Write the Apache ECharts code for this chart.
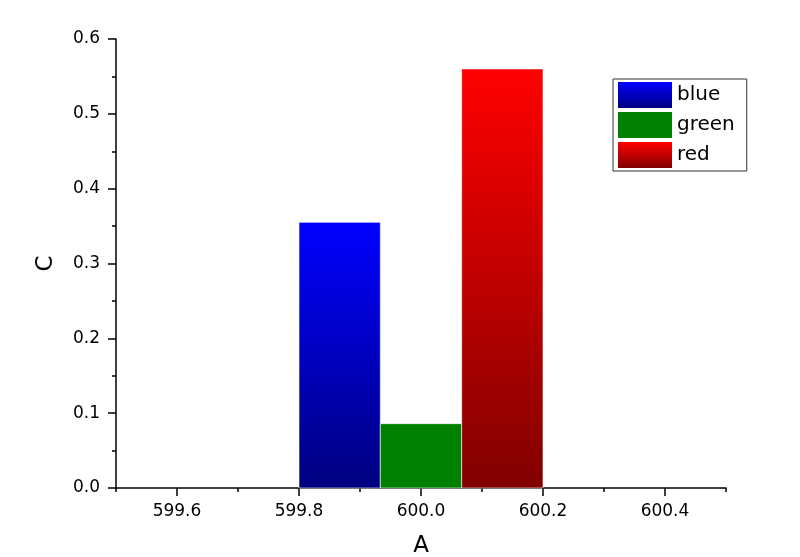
<!DOCTYPE html>
<html>
<head>
<meta charset="utf-8">
<script src="https://cdn.jsdelivr.net/npm/echarts@6/dist/echarts.min.js"></script>
<style>
  html, body { margin: 0; padding: 0; background: #fff; }
  #chart { width: 800px; height: 557px; }
</style>
</head>
<body>
<div id="chart"></div>
<script>
// bar data: left edge, right edge and height of each bar
var names = ['blue', 'green', 'red'];
var barStart = [599.8, 599.9333, 600.0667];
var barEnd = [599.9333, 600.0667, 600.2];
var barValue = [0.355, 0.086, 0.56];

// tick positions on the A axis
var majorTicksX = [599.6, 599.8, 600.0, 600.2, 600.4];
var minorTicksX = [599.5, 599.7, 599.9, 600.1, 600.3, 600.5];

var fontFamily = 'DejaVu Sans, sans-serif';

function vgrad(top, bottom) {
    return new echarts.graphic.LinearGradient(0, 0, 0, 1, [
        {offset: 0, color: top},
        {offset: 1, color: bottom}
    ]);
}
var fills = [vgrad('#0000ff', '#000080'), '#008000', vgrad('#ff0000', '#800000')];

var chart = echarts.init(document.getElementById('chart'));

var series = names.map(function (name, i) {
    return {
        name: name,
        type: 'custom',
        xAxisIndex: 0,
        yAxisIndex: 0,
        itemStyle: {color: fills[i]},
        encode: {x: [0, 1], y: 2},
        data: [[barStart[i], barEnd[i], barValue[i]]],
        renderItem: function (params, api) {
            var p0 = api.coord([api.value(0), api.value(2)]);
            var p1 = api.coord([api.value(1), 0]);
            return {
                type: 'rect',
                shape: {x: p0[0], y: p0[1], width: p1[0] - p0[0], height: p1[1] - p0[1]},
                style: {fill: fills[i], stroke: 'rgba(255,255,255,0.6)', lineWidth: 1}
            };
        }
    };
});

var option = {
    backgroundColor: '#ffffff',
    animation: false,
    textStyle: {fontFamily: fontFamily},
    grid: {left: 116, right: 74, top: 39, bottom: 69, containLabel: false, outerBoundsMode: 'none'},
    legend: {
        orient: 'vertical',
        left: 613,
        top: 79,
        data: names,
        icon: 'rect',
        itemWidth: 54,
        itemHeight: 26,
        itemGap: 4,
        borderColor: '#333',
        borderWidth: 1,
        padding: [3, 12, 3, 5],
        textStyle: {fontSize: 20, color: '#000', fontFamily: fontFamily}
    },
    xAxis: [{
        type: 'value',
        min: 599.5,
        max: 600.5,
        name: 'A',
        nameLocation: 'middle',
        nameGap: 47,
        nameTextStyle: {fontSize: 23, color: '#000'},
        axisLine: {show: true, lineStyle: {color: '#000', width: 1.5}},
        axisTick: {show: true, length: 8, customValues: majorTicksX, lineStyle: {color: '#000', width: 1.5}},
        axisLabel: {
            customValues: majorTicksX,
            fontSize: 17,
            color: '#000',
            margin: 15,
            formatter: function (v) { return v.toFixed(1); }
        },
        splitLine: {show: false}
    }, {
        type: 'value',
        min: 599.5,
        max: 600.5,
        position: 'bottom',
        axisLine: {show: false},
        axisTick: {show: true, length: 4, customValues: minorTicksX, lineStyle: {color: '#000', width: 1.5}},
        axisLabel: {show: false},
        splitLine: {show: false}
    }],
    yAxis: {
        type: 'value',
        min: 0,
        max: 0.6,
        interval: 0.1,
        name: 'C',
        nameLocation: 'middle',
        nameGap: 58,
        nameTextStyle: {fontSize: 23, color: '#000'},
        axisLine: {show: true, lineStyle: {color: '#000', width: 1.5}},
        axisTick: {show: true, length: 8, lineStyle: {color: '#000', width: 1.5}},
        minorTick: {show: true, splitNumber: 2, length: 4, lineStyle: {color: '#000', width: 1.5}},
        axisLabel: {
            fontSize: 17,
            color: '#000',
            margin: 16,
            formatter: function (v) { return v.toFixed(1); }
        },
        splitLine: {show: false}
    },
    series: series
};

chart.setOption(option);
</script>
</body>
</html>
